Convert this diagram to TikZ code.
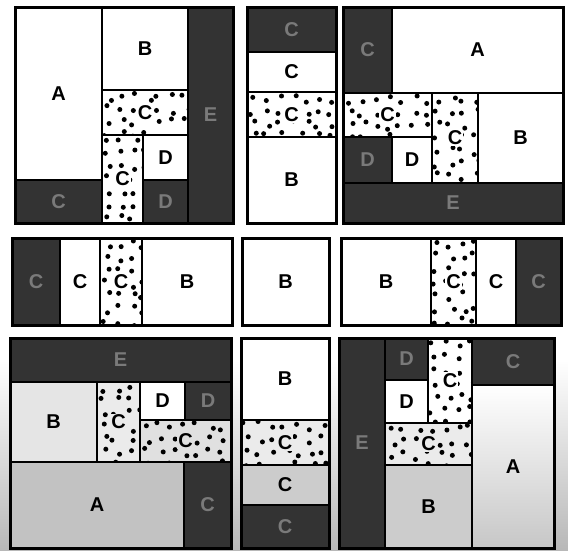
\documentclass[tikz,border=0pt]{standalone}
\usepackage{fontspec}
\setmainfont{Liberation Sans}
\begin{document}
\begin{tikzpicture}[x=1pt,y=-1pt]
\tikzset{
 pline/.style={draw=black, line width=2.6pt, line join=miter},
 frame/.style={draw=black, line width=3pt, line join=miter},
 lab/.style={font=\fontsize{20}{20}\selectfont\bfseries, text=black, inner sep=1pt},
 dlab/.style={lab, text=black!52},
}
\newcommand\qlight[7]{%
  \path[pline, #2] (#3,#4) rectangle (#5,#6);
  \node[lab] (#1) at ({(#3+#5)/2},{(#4+#6)/2}) {#7};}
\newcommand\qdark[6]{%
  \path[pline, fill=black!80] (#2,#3) rectangle (#4,#5);
  \node[dlab] (#1) at ({(#2+#4)/2},{(#3+#5)/2}) {#6};}
\newcommand\qdots[7]{%
  \path[fill=#2] (#3,#4) rectangle (#5,#6);
  \begin{scope}
    \clip (#3,#4) rectangle (#5,#6);
    \pgfmathtruncatemacro\qnx{(#5-#3)/13}
    \pgfmathtruncatemacro\qny{(#6-#4)/13}
    \foreach \i in {0,...,\qnx}{\foreach \j in {0,...,\qny}{%
      \fill ({#3+6+13*\i+(rnd-0.5)*9},{#4+6+13*\j+(rnd-0.5)*9}) circle[radius=2.5pt];}}
  \end{scope}
  \path[pline] (#3,#4) rectangle (#5,#6);
  \node[lab, fill=#2] (#1) at ({(#3+#5)/2},{(#4+#6)/2}) {#7};}
\pgfmathsetseed{4217}
\useasboundingbox (0,0) rectangle (568,550);
\fill[white] (0,0) rectangle (568,550);
\shade[top color=white, bottom color=black!28] (0,360) rectangle (568,550);
% ---------- panel 1
\qlight{p1a}{fill=white}{15}{7}{102}{180}{A}
\qlight{p1b}{fill=white}{102}{7}{188}{90}{B}
\qdots{p1c1}{white}{102}{90}{188}{135}{C}
\qdots{p1c2}{white}{102}{135}{143}{223}{C}
\qlight{p1d}{fill=white}{143}{135}{188}{180}{D}
\qdark{p1dd}{143}{180}{188}{223}{D}
\qdark{p1cd}{15}{180}{102}{223}{C}
\qdark{p1e}{188}{7}{233}{223}{E}
\draw[frame] (15,7) rectangle (233,223);
% ---------- panel 2
\qdark{p2cd}{247}{7}{336}{52}{C}
\qlight{p2c}{fill=white}{247}{52}{336}{92}{C}
\qdots{p2cs}{white}{247}{92}{336}{137}{C}
\qlight{p2b}{fill=white}{247}{137}{336}{223}{B}
\draw[frame] (247,7) rectangle (336,223);
% ---------- panel 3
\qdark{p3cd}{343}{7}{392}{93}{C}
\qlight{p3a}{fill=white}{392}{7}{563}{93}{A}
\qdots{p3c1}{white}{343}{93}{432}{137}{C}
\qdots{p3c2}{white}{432}{93}{478}{183}{C}
\qlight{p3b}{fill=white}{478}{93}{563}{183}{B}
\qdark{p3dd}{343}{137}{392}{183}{D}
\qlight{p3d}{fill=white}{392}{137}{432}{183}{D}
\qdark{p3e}{343}{183}{563}{223}{E}
\draw[frame] (343,7) rectangle (563,223);
% ---------- panel 4
\qdark{p4cd}{12}{238}{60}{325}{C}
\qlight{p4c}{fill=white}{60}{238}{100}{325}{C}
\qdots{p4cs}{white}{100}{238}{142}{325}{C}
\qlight{p4b}{fill=white}{142}{238}{232}{325}{B}
\draw[frame] (12,238) rectangle (232,325);
% ---------- panel 5
\qlight{p5b}{fill=white}{242}{238}{329}{325}{B}
\draw[frame] (242,238) rectangle (329,325);
% ---------- panel 6
\qlight{p6b}{fill=white}{341}{238}{431}{325}{B}
\qdots{p6cs}{white}{431}{238}{476}{325}{C}
\qlight{p6c}{fill=white}{476}{238}{516}{325}{C}
\qdark{p6cd}{516}{238}{561}{325}{C}
\draw[frame] (341,238) rectangle (561,325);
% ---------- panel 7
\qdark{p7e}{10}{338}{231}{382}{E}
\qlight{p7b}{fill=black!10}{10}{382}{97}{462}{B}
\qdots{p7c1}{black!8}{97}{382}{140}{462}{C}
\qlight{p7d}{fill=white}{140}{382}{185}{420}{D}
\qdark{p7dd}{185}{382}{231}{420}{D}
\qdots{p7c2}{black!12}{140}{420}{231}{462}{C}
\qlight{p7a}{fill=black!24}{10}{462}{184}{548}{A}
\qdark{p7cd}{184}{462}{231}{548}{C}
\draw[frame] (10,338) rectangle (231,548);
% ---------- panel 8
\qlight{p8b}{fill=white}{241}{338}{329}{420}{B}
\qdots{p8cs}{black!8}{241}{420}{329}{465}{C}
\qlight{p8c}{fill=black!20}{241}{465}{329}{505}{C}
\qdark{p8cd}{241}{505}{329}{548}{C}
\draw[frame] (241,338) rectangle (329,548);
% ---------- panel 9
\qdark{p9e}{339}{338}{385}{548}{E}
\qdark{p9dd}{385}{338}{428}{380}{D}
\qdots{p9c1}{white}{428}{338}{472}{423}{C}
\qdark{p9cd}{472}{338}{554}{385}{C}
\qlight{p9d}{fill=white}{385}{380}{428}{423}{D}
\qdots{p9c2}{black!8}{385}{423}{472}{465}{C}
\qlight{p9b}{fill=black!20}{385}{465}{472}{548}{B}
\qlight{p9a}{top color=white, bottom color=black!22}{472}{385}{554}{548}{A}
\draw[frame] (339,338) rectangle (554,548);
\end{tikzpicture}
\end{document}
